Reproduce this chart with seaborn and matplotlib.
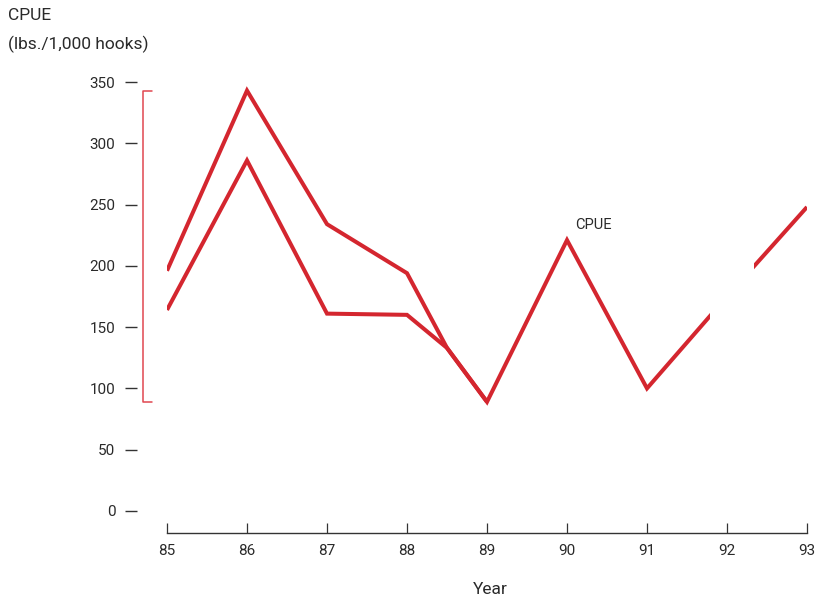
import matplotlib
matplotlib.use("Agg")
import matplotlib.pyplot as plt
import seaborn as sns
import pandas as pd
from matplotlib.patches import Rectangle

# ---- data ----
years_upper = [85, 86, 87, 88, 88.5, 89]
cpue_upper = [196, 343, 234, 194, 133, 89]
years_lower = [85, 86, 87, 88, 88.5, 89, 90, 91, 92, 93]
cpue_lower = [164, 286, 161, 160, 133, 89, 221, 100, 175, 248]
x_ticks = [85, 86, 87, 88, 89, 90, 91, 92, 93]
y_ticks = [0, 50, 100, 150, 200, 250, 300, 350]

RED = "#D4262F"
BRACKET = "#E0474F"
DARK = "#333333"
TXT = "#2a2a2a"

sns.set_theme(style="white")
plt.rcParams["font.family"] = ["Roboto", "DejaVu Sans"]

df_up = pd.DataFrame({"Year": years_upper, "CPUE": cpue_upper})
df_lo = pd.DataFrame({"Year": years_lower, "CPUE": cpue_lower})

fig = plt.figure(figsize=(8.18, 6.0), dpi=100)
ax = fig.add_axes([167 / 818, (600 - 533) / 600, (807 - 167) / 818, (533 - 82) / 600])

kw = dict(color=RED, linewidth=2.9, solid_joinstyle="miter", solid_capstyle="butt")
sns.lineplot(data=df_up, x="Year", y="CPUE", ax=ax, **kw)
sns.lineplot(data=df_lo, x="Year", y="CPUE", ax=ax, **kw)

# white gap over the line near 92
ax.add_patch(Rectangle((91.79, 140), 0.55, 70, facecolor="white", edgecolor="none", zorder=5))

ax.set_xlim(85, 93)
ax.set_ylim(-18, 350)

# spines
for s in ["top", "right"]:
    ax.spines[s].set_visible(False)
ax.spines["left"].set_position(("outward", 21.6))
ax.spines["left"].set_color("none")
ax.spines["bottom"].set_color(DARK)
ax.spines["bottom"].set_linewidth(1.0)

ax.set_xticks(x_ticks)
ax.set_xticklabels([str(v) for v in x_ticks])
ax.set_yticks(y_ticks)
ax.set_yticklabels([str(v) for v in y_ticks])
ax.tick_params(axis="x", direction="in", length=7.5, width=0.9, color=DARK,
               pad=8, labelsize=11, labelcolor=TXT, bottom=True)
ax.tick_params(axis="y", direction="out", length=8.5, width=1.0, color=DARK,
               pad=7, labelsize=11, labelcolor=TXT, left=True)

ax.set_xlabel("")
ax.set_ylabel("")
fig.text(490 / 818, 1 - 589 / 600, "Year", ha="center", va="center", fontsize=12.5, color=TXT)
fig.text(8 / 818, 1 - 16 / 600, "CPUE", ha="left", va="center", fontsize=12.5, color=TXT)
fig.text(8 / 818, 1 - 44 / 600, "(lbs./1,000 hooks)", ha="left", va="center", fontsize=12.5, color=TXT)

ax.text(90.1, 233, "CPUE", ha="left", va="center", fontsize=10.5, color=TXT)

# range bracket
all_vals = cpue_upper + cpue_lower
lo, hi = min(all_vals), max(all_vals)
bx, bx2 = 84.7, 84.81
ax.plot([bx2, bx, bx, bx2], [hi, hi, lo, lo], color=BRACKET, linewidth=1.1, clip_on=False)

fig.savefig("out.png", dpi=100)
